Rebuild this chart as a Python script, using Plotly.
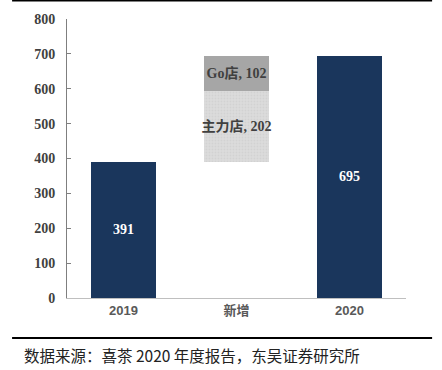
import plotly.graph_objects as go

categories = ["2019", "新增", "2020"]
total_values = [391, None, 695]
base_values = [0, 391, 0]
main_store_values = [None, 202, None]
go_store_values = [None, 102, None]
main_labels = ["", "主力店, 202", ""]
go_labels = ["", "Go店, 102", ""]
total_labels = ["391", "", "695"]
y_ticks = [0, 100, 200, 300, 400, 500, 600, 700, 800]
source_text = "数据来源：喜茶 2020 年度报告，东吴证券研究所"

navy = "#1a365c"
bw = 0.58
label_font = dict(family="Liberation Serif, Noto Sans CJK SC", size=14, color="#404040", weight="bold")
fig = go.Figure()
fig.add_trace(go.Bar(x=categories, y=base_values, marker_color="rgba(0,0,0,0)",
                     width=bw, hoverinfo="skip", showlegend=False))
fig.add_trace(go.Bar(x=categories, y=total_values, marker_color=navy, width=bw,
                     text=total_labels, textposition="inside", insidetextanchor="middle",
                     textfont=dict(family="Liberation Serif", size=14, color="white", weight="bold"),
                     showlegend=False))
fig.add_trace(go.Bar(x=categories, y=main_store_values, width=bw,
                     marker=dict(color="#dcdcdc",
                                 pattern=dict(shape=".", size=3, solidity=0.3, fgcolor="#c8c8c8", bgcolor="#dcdcdc")),
                     text=main_labels, textposition="inside", insidetextanchor="middle",
                     textfont=label_font, showlegend=False))
fig.add_trace(go.Bar(x=categories, y=go_store_values, width=bw, marker_color="#a6a6a6",
                     text=go_labels, textposition="inside", insidetextanchor="middle",
                     textfont=label_font, showlegend=False))

fig.update_traces(marker_line_width=0, textangle=0, constraintext="none")

fig.update_layout(
    barmode="stack",
    width=442, height=370,
    margin=dict(l=67, r=36, t=19, b=72),
    paper_bgcolor="white", plot_bgcolor="white",
    uniformtext=dict(mode=False),
    xaxis=dict(showline=True, linecolor="#bfbfbf", linewidth=1, ticks="",
               tickfont=dict(family="Liberation Sans, Noto Sans CJK SC", size=13, color="#595959", weight="bold"),
               showgrid=False),
    yaxis=dict(range=[0, 800], tickvals=y_ticks, showline=True, linecolor="#7f7f7f", linewidth=1,
               ticks="inside", ticklen=4, tickcolor="#7f7f7f", showgrid=False, zeroline=False,
               tickfont=dict(family="Liberation Serif", size=14, color="#404040", weight="bold"),
               ticklabelstandoff=8),
    shapes=[
        dict(type="line", xref="paper", yref="paper", x0=-0.162, x1=1.077, y0=1.066, y1=1.066,
             line=dict(color="black", width=2)),
        dict(type="line", xref="paper", yref="paper", x0=-0.162, x1=1.077, y0=-0.1436, y1=-0.1436,
             line=dict(color="black", width=2)),
    ],
    annotations=[
        dict(text=source_text, xref="paper", yref="paper", x=-0.133, y=-0.205,
             xanchor="left", yanchor="middle", showarrow=False,
             font=dict(family="Noto Sans CJK SC", size=15.5, color="#222222")),
    ],
)
fig.write_html("out.html", config={"displayModeBar": False},
               post_script="document.body.style.margin='0';document.body.style.overflow='hidden';")
